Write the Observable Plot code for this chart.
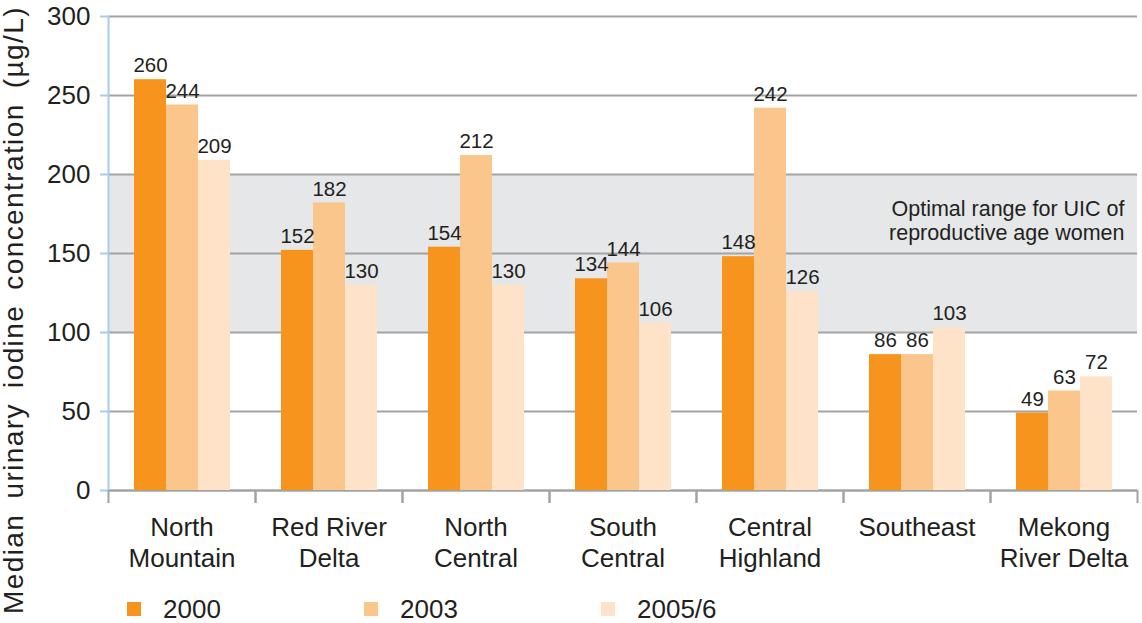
<!DOCTYPE html>
<html>
<head>
<meta charset="utf-8">
<script src="https://cdn.jsdelivr.net/npm/d3@7"></script>
<script src="https://cdn.jsdelivr.net/npm/@observablehq/plot@0.6"></script>
<style>
  html, body { margin: 0; padding: 0; background: #fff; overflow: hidden; }
  #wrap { position: relative; width: 1142px; height: 623px; font-family: "Liberation Sans", Arial, sans-serif; color: #231f20; }
  #ylab { position: absolute; left: 14px; top: 310px; white-space: nowrap; font-size: 28px; line-height: 1;
          transform: translate(-50%, -50%) rotate(-90deg); word-spacing: 6px; letter-spacing: 1.4px; }
  #legend { position: absolute; left: 127px; top: 595px; display: flex; font-size: 26px; line-height: 28px; }
  .item { display: flex; align-items: center; width: 237px; }
  .sw { width: 14px; height: 14px; margin-right: 22px; }
</style>
</head>
<body>
<div id="wrap">
  <div id="chart"></div>
  <div id="ylab">Median urinary iodine concentration (µg/L)</div>
  <div id="legend"></div>
</div>
<script>
const regions = ["North Mountain", "Red River Delta", "North Central", "South Central", "Central Highland", "Southeast", "Mekong River Delta"];
const regionLabels = ["North\nMountain", "Red River\nDelta", "North\nCentral", "South\nCentral", "Central\nHighland", "Southeast", "Mekong\nRiver Delta"];
const years = ["2000", "2003", "2005/6"];
const values2000 = [260, 152, 154, 134, 148, 86, 49];
const values2003 = [244, 182, 212, 144, 242, 86, 63];
const values2005 = [209, 130, 130, 106, 126, 103, 72];
const yTicks = [0, 50, 100, 150, 200, 250, 300];
const optimalRange = [{y1: 100, y2: 200}];
const bandNote = [{region: "Mekong River Delta", y: 171, text: "Optimal range for UIC of\nreproductive age women"}];
const colors = ["#f7941d", "#fbc68b", "#fee3c8"];

const series = [values2000, values2003, values2005];
const data = [];
regions.forEach((r, i) => years.forEach((yr, j) => data.push({region: r, year: yr, value: series[j][i]})));

const W = 1142, H = 623, mL = 108, mR = 5, mT = 16, mB = 133;
const step = (W - mL - mR) / regions.length;
const grey = "#a3a3a3", blue = "#a6cdee", ink = "#231f20";
const labelOf = new Map(regions.map((r, i) => [r, regionLabels[i]]));

const chart = Plot.plot({
  width: W, height: H,
  marginLeft: mL, marginRight: mR, marginTop: mT, marginBottom: mB,
  style: {fontFamily: "'Liberation Sans', Arial, sans-serif", color: ink, background: "white"},
  fx: {domain: regions, padding: 0},
  x: {domain: years, paddingInner: 0, paddingOuter: 0.77, axis: null},
  y: {domain: [0, 300]},
  color: {domain: years, range: colors},
  marks: [
    Plot.rectY(optimalRange, {y1: "y1", y2: "y2", fill: "#e6e7e8"}),
    Plot.gridY(yTicks, {stroke: grey, strokeOpacity: 1, strokeWidth: 2}),
    Plot.ruleY([0], {stroke: grey, strokeWidth: 2}),
    Plot.barY(data, {fx: "region", x: "year", y: "value", fill: "year"}),
    Plot.text(data, {fx: "region", x: "year", y: "value", text: d => String(d.value), dy: -14, fontSize: 20.5, fill: ink, lineAnchor: "middle"}),
    Plot.text(bandNote, {fx: "region", y: "y", text: "text", frameAnchor: "right", textAnchor: "end", dx: -13, fontSize: 21.5, lineHeight: 1.1, fill: ink}),
    Plot.frame({anchor: "left", stroke: blue, strokeWidth: 2, facetAnchor: "left"}),
    Plot.axisY(yTicks, {tickSize: 8, tickPadding: 10, fontSize: 26, stroke: blue, strokeWidth: 2, fill: ink, label: null}),
    Plot.axisFx({anchor: "bottom", tickSize: 0, tickPadding: 23, fontSize: 26, lineHeight: 1.2, fill: ink, tickFormat: r => labelOf.get(r), label: null}),
    Plot.axisFx({anchor: "bottom", tickSize: 13, tickFormat: () => "", stroke: grey, strokeWidth: 2, dx: -step / 2, label: null}),
    Plot.axisFx([regions[regions.length - 1]], {anchor: "bottom", tickSize: 13, tickFormat: () => "", stroke: grey, strokeWidth: 2, dx: step / 2, label: null})
  ]
});
document.getElementById("chart").appendChild(chart);

const legend = document.getElementById("legend");
years.forEach((yr, i) => {
  const item = document.createElement("div");
  item.className = "item";
  const sw = document.createElement("div");
  sw.className = "sw";
  sw.style.background = colors[i];
  const t = document.createElement("span");
  t.textContent = yr;
  item.appendChild(sw);
  item.appendChild(t);
  legend.appendChild(item);
});
</script>
</body>
</html>
